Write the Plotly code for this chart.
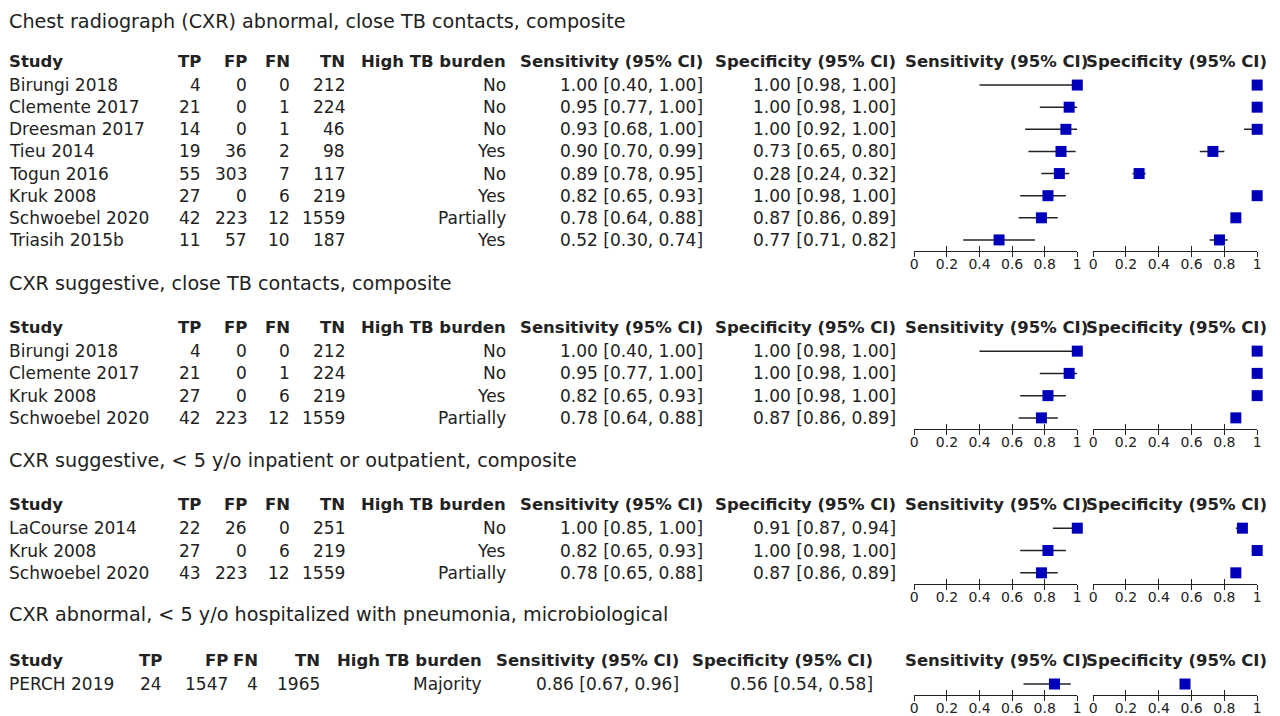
import plotly.graph_objects as go

# ---------------- DATA ----------------
titles = [
    "Chest radiograph (CXR) abnormal, close TB contacts, composite",
    "CXR suggestive, close TB contacts, composite",
    "CXR suggestive, < 5 y/o inpatient or outpatient, composite",
    "CXR abnormal, < 5 y/o hospitalized with pneumonia, microbiological",
]
header_labels = ["Study", "TP", "FP", "FN", "TN", "High TB burden",
                 "Sensitivity (95% CI)", "Specificity (95% CI)"]
tick_vals = [0, 0.2, 0.4, 0.6, 0.8, 1]
tick_text = ["0", "0.2", "0.4", "0.6", "0.8", "1"]

s1_study = ["Birungi 2018", "Clemente 2017", "Dreesman 2017", "Tieu 2014",
            "Togun 2016", "Kruk 2008", "Schwoebel 2020", "Triasih 2015b"]
s1_tp = [4, 21, 14, 19, 55, 27, 42, 11]
s1_fp = [0, 0, 0, 36, 303, 0, 223, 57]
s1_fn = [0, 1, 1, 2, 7, 6, 12, 10]
s1_tn = [212, 224, 46, 98, 117, 219, 1559, 187]
s1_burden = ["No", "No", "No", "Yes", "No", "Yes", "Partially", "Yes"]
s1_sens = [1.00, 0.95, 0.93, 0.90, 0.89, 0.82, 0.78, 0.52]
s1_sens_lo = [0.40, 0.77, 0.68, 0.70, 0.78, 0.65, 0.64, 0.30]
s1_sens_hi = [1.00, 1.00, 1.00, 0.99, 0.95, 0.93, 0.88, 0.74]
s1_spec = [1.00, 1.00, 1.00, 0.73, 0.28, 1.00, 0.87, 0.77]
s1_spec_lo = [0.98, 0.98, 0.92, 0.65, 0.24, 0.98, 0.86, 0.71]
s1_spec_hi = [1.00, 1.00, 1.00, 0.80, 0.32, 1.00, 0.89, 0.82]

s2_study = ["Birungi 2018", "Clemente 2017", "Kruk 2008", "Schwoebel 2020"]
s2_tp = [4, 21, 27, 42]
s2_fp = [0, 0, 0, 223]
s2_fn = [0, 1, 6, 12]
s2_tn = [212, 224, 219, 1559]
s2_burden = ["No", "No", "Yes", "Partially"]
s2_sens = [1.00, 0.95, 0.82, 0.78]
s2_sens_lo = [0.40, 0.77, 0.65, 0.64]
s2_sens_hi = [1.00, 1.00, 0.93, 0.88]
s2_spec = [1.00, 1.00, 1.00, 0.87]
s2_spec_lo = [0.98, 0.98, 0.98, 0.86]
s2_spec_hi = [1.00, 1.00, 1.00, 0.89]

s3_study = ["LaCourse 2014", "Kruk 2008", "Schwoebel 2020"]
s3_tp = [22, 27, 43]
s3_fp = [26, 0, 223]
s3_fn = [0, 6, 12]
s3_tn = [251, 219, 1559]
s3_burden = ["No", "Yes", "Partially"]
s3_sens = [1.00, 0.82, 0.78]
s3_sens_lo = [0.85, 0.65, 0.65]
s3_sens_hi = [1.00, 0.93, 0.88]
s3_spec = [0.91, 1.00, 0.87]
s3_spec_lo = [0.87, 0.98, 0.86]
s3_spec_hi = [0.94, 1.00, 0.89]

s4_study = ["PERCH 2019"]
s4_tp = [24]
s4_fp = [1547]
s4_fn = [4]
s4_tn = [1965]
s4_burden = ["Majority"]
s4_sens = [0.86]
s4_sens_lo = [0.67]
s4_sens_hi = [0.96]
s4_spec = [0.56]
s4_spec_lo = [0.54]
s4_spec_hi = [0.58]

sections = [
    dict(study=s1_study, tp=s1_tp, fp=s1_fp, fn=s1_fn, tn=s1_tn, burden=s1_burden,
         sens=s1_sens, sens_lo=s1_sens_lo, sens_hi=s1_sens_hi,
         spec=s1_spec, spec_lo=s1_spec_lo, spec_hi=s1_spec_hi),
    dict(study=s2_study, tp=s2_tp, fp=s2_fp, fn=s2_fn, tn=s2_tn, burden=s2_burden,
         sens=s2_sens, sens_lo=s2_sens_lo, sens_hi=s2_sens_hi,
         spec=s2_spec, spec_lo=s2_spec_lo, spec_hi=s2_spec_hi),
    dict(study=s3_study, tp=s3_tp, fp=s3_fp, fn=s3_fn, tn=s3_tn, burden=s3_burden,
         sens=s3_sens, sens_lo=s3_sens_lo, sens_hi=s3_sens_hi,
         spec=s3_spec, spec_lo=s3_spec_lo, spec_hi=s3_spec_hi),
    dict(study=s4_study, tp=s4_tp, fp=s4_fp, fn=s4_fn, tn=s4_tn, burden=s4_burden,
         sens=s4_sens, sens_lo=s4_sens_lo, sens_hi=s4_sens_hi,
         spec=s4_spec, spec_lo=s4_spec_lo, spec_hi=s4_spec_hi),
]

# ---------------- LAYOUT / STYLE ----------------
OFF = 8                      # page body margin of the html page
W, H = 1280, 716
FONT = "DejaVu Sans"
TXT = "#222222"
BLUE = "#0000bb"
BODY = 17
HEAD = 16.5
TITLE = 19.2
LEFT_FIX = 6                 # annotation inner padding compensation

def px(x):
    return (x - OFF) / W

def py(y):
    return 1 - (y - OFF) / H

cols_std = [200, 246, 290, 345, 507, 705, 900]
cols_last = [161, 227, 258, 320, 483, 681, 876]
geom = [
    (74, 251, cols_std),
    (340, 429, cols_std),
    (517, 584, cols_std),
    (673, 695, cols_last),
]
SENS_DOM = (916, 1080)
SPEC_DOM = (1096, 1261)

fig = go.Figure()
annotations = []
layout_axes = {}

def ann(x, y, text, anchor="left", bold=False, size=BODY, pad=1):
    if anchor == "left":
        x = x - LEFT_FIX + (1 - pad)
    annotations.append(dict(
        x=px(x), y=py(y), xref="paper", yref="paper",
        text=("<b>%s</b>" % text) if bold else text,
        showarrow=False, xanchor=anchor, yanchor="middle", borderpad=pad,
        font=dict(family=FONT, size=size, color=TXT)))

for j, (sec, (top, bottom, cols)) in enumerate(zip(sections, geom)):
    n = len(sec["study"])
    spacing = (bottom - top) / n
    row_y = [top + (i + 0.5) * spacing for i in range(n)]
    header_y = row_y[0] - 24
    title_y = header_y - 44 if j < 3 else header_y - 46

    ann(9, max(title_y, 21), titles[j], size=TITLE, pad=0)

    ann(9, header_y, header_labels[0], bold=True, size=HEAD)
    for k, lab in enumerate(header_labels[1:]):
        ann(cols[k], header_y, lab, anchor="right", bold=True, size=HEAD)
    ann((SENS_DOM[0] + SENS_DOM[1]) / 2 + 1, header_y, "Sensitivity (95% CI)", anchor="center", bold=True, size=HEAD)
    ann((SPEC_DOM[0] + SPEC_DOM[1]) / 2 + 1, header_y, "Specificity (95% CI)", anchor="center", bold=True, size=HEAD)

    for i in range(n):
        y = row_y[i]
        ann(9, y, sec["study"][i])
        ann(cols[0], y, str(sec["tp"][i]), anchor="right")
        ann(cols[1], y, str(sec["fp"][i]), anchor="right")
        ann(cols[2], y, str(sec["fn"][i]), anchor="right")
        ann(cols[3], y, str(sec["tn"][i]), anchor="right")
        ann(cols[4], y, sec["burden"][i], anchor="right")
        ann(cols[5], y, "%.2f [%.2f, %.2f]" % (sec["sens"][i], sec["sens_lo"][i], sec["sens_hi"][i]), anchor="right")
        ann(cols[6], y, "%.2f [%.2f, %.2f]" % (sec["spec"][i], sec["spec_lo"][i], sec["spec_hi"][i]), anchor="right")

    for m, (key, dom) in enumerate([("sens", SENS_DOM), ("spec", SPEC_DOM)]):
        a = 2 * j + m + 1
        ov = a + 8
        xs = "x" if a == 1 else "x%d" % a
        ys = "y" if a == 1 else "y%d" % a
        vals = sec[key]
        lo = sec[key + "_lo"]
        hi = sec[key + "_hi"]
        fig.add_trace(go.Scatter(
            x=vals, y=list(range(n)), mode="markers",
            marker=dict(symbol="square", size=11, color=BLUE, line=dict(width=0)),
            error_x=dict(type="data", symmetric=False,
                         array=[h - v for h, v in zip(hi, vals)],
                         arrayminus=[v - l for v, l in zip(vals, lo)],
                         width=0, thickness=1.5, color=TXT),
            xaxis=xs, yaxis=ys, cliponaxis=False, showlegend=False, hoverinfo="skip"))
        # empty trace so the overlaid "inside ticks" axis is drawn
        fig.add_trace(go.Scatter(x=[None], y=[None], mode="markers", xaxis="x%d" % ov, yaxis=ys,
                                 showlegend=False, hoverinfo="skip"))
        layout_axes["xaxis" if a == 1 else "xaxis%d" % a] = dict(
            domain=[px(dom[0]), px(dom[1])], range=[0, 1], anchor=ys,
            tickmode="array", tickvals=tick_vals, ticktext=tick_text,
            ticks="outside", ticklen=5, tickwidth=1, tickcolor=TXT,
            showline=True, linecolor=TXT, linewidth=1,
            showgrid=False, zeroline=False, fixedrange=True,
            tickfont=dict(family=FONT, size=14, color=TXT))
        layout_axes["xaxis%d" % ov] = dict(
            overlaying=xs, anchor=ys, side="bottom", range=[0, 1],
            tickmode="array", tickvals=tick_vals,
            ticks="inside", ticklen=5, tickwidth=1, tickcolor=TXT,
            showticklabels=False, showline=False, showgrid=False, zeroline=False)
        layout_axes["yaxis" if a == 1 else "yaxis%d" % a] = dict(
            domain=[py(bottom), py(top)], range=[n - 0.5, -0.5], anchor=xs,
            visible=False, showgrid=False, zeroline=False)

fig.update_layout(
    width=W, height=H, margin=dict(l=0, r=0, t=0, b=0),
    paper_bgcolor="white", plot_bgcolor="white",
    annotations=annotations, showlegend=False,
    **layout_axes)

try:
    for a in range(1, 9):
        fig.layout["xaxis" if a == 1 else "xaxis%d" % a].ticklabelstandoff = -5
except Exception:
    pass

fig.write_html("out.html")
